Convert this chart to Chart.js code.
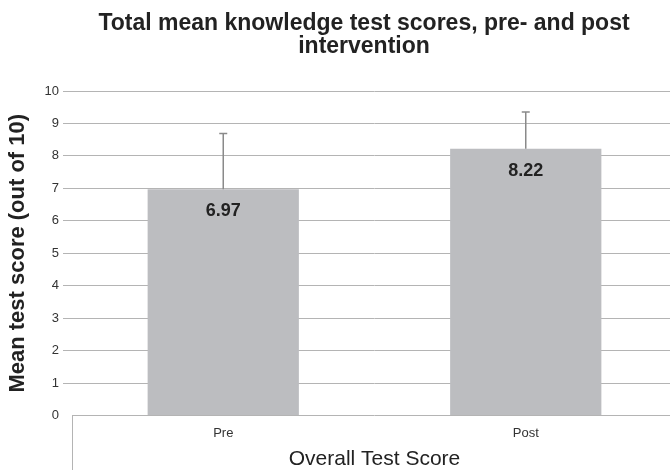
<!DOCTYPE html>
<html>
<head>
<meta charset="utf-8">
<script src="https://cdn.jsdelivr.net/npm/chart.js@4/dist/chart.umd.min.js"></script>
<style>
  html, body { margin: 0; padding: 0; background: #fff; overflow: hidden; }
  #wrap { width: 728px; height: 470px; position: relative; }
</style>
</head>
<body>
<div id="wrap"><canvas id="c"></canvas></div>
<script>
const categories = ["Pre", "Post"];
const meanScores = [6.97, 8.22];
const sdScores = [1.72, 1.13];
const yTicks = [0, 1, 2, 3, 4, 5, 6, 7, 8, 9, 10];
const titleLines = ["Total mean knowledge test scores, pre- and post", "intervention"];
const yTitle = "Mean test score (out of 10)";
const xTitle = "Overall Test Score";

const FONT = "'Liberation Sans', Arial, Helvetica, sans-serif";
const GRID = "#b4b4b4";

const extras = {
  id: "extras",
  afterDatasetsDraw(chart) {
    const ctx = chart.ctx;
    const meta = chart.getDatasetMeta(0);
    const ys = chart.scales.y;
    ctx.save();
    meta.data.forEach((bar, i) => {
      const v = meanScores[i];
      const top = ys.getPixelForValue(v + sdScores[i]);
      const yv = ys.getPixelForValue(v);
      ctx.strokeStyle = "#8a8a8a";
      ctx.lineWidth = 1.5;
      ctx.beginPath();
      ctx.moveTo(bar.x, yv);
      ctx.lineTo(bar.x, top);
      ctx.moveTo(bar.x - 4, top);
      ctx.lineTo(bar.x + 4, top);
      ctx.stroke();
      ctx.fillStyle = "#222";
      ctx.font = "bold 18px " + FONT;
      ctx.textAlign = "center";
      ctx.textBaseline = "middle";
      ctx.fillText(v.toFixed(2), bar.x, yv + 22);
    });
    const a = chart.chartArea;
    ctx.strokeStyle = GRID;
    ctx.lineWidth = 1;
    ctx.beginPath();
    ctx.moveTo(Math.round(a.left) + 0.5, a.bottom);
    ctx.lineTo(Math.round(a.left) + 0.5, chart.height);
    ctx.stroke();
    ctx.restore();
  }
};

new Chart(document.getElementById("c"), {
  type: "bar",
  data: {
    labels: categories,
    datasets: [{
      data: meanScores,
      backgroundColor: "#bcbdc0",
      borderWidth: 0,
      barPercentage: 0.5,
      categoryPercentage: 1.0
    }]
  },
  options: {
    responsive: true,
    maintainAspectRatio: false,
    animation: false,
    layout: { padding: 0 },
    plugins: {
      legend: { display: false },
      tooltip: { enabled: false },
      title: {
        display: true,
        text: titleLines,
        color: "#222",
        font: { family: FONT, size: 23, weight: "bold", lineHeight: 1.0 },
        padding: { top: 12, bottom: 33 }
      }
    },
    scales: {
      x: {
        afterFit(scale) { scale.height = 54.5; },
        grid: { display: false, drawTicks: false },
        border: { display: false },
        ticks: { color: "#333", font: { family: FONT, size: 13 }, padding: 10 },
        title: {
          display: true,
          text: xTitle,
          color: "#222",
          font: { family: FONT, size: 21, lineHeight: 1.0 },
          padding: { top: 0, bottom: 0 }
        }
      },
      y: {
        min: 0,
        max: 10,
        afterFit(scale) { scale.width = 72; },
        afterBuildTicks(scale) { scale.ticks = yTicks.map(v => ({ value: v })); },
        grid: {
          color: GRID,
          lineWidth: 1,
          tickLength: 9,
          tickColor: (c) => (c.tick && c.tick.value === 0 ? "rgba(0,0,0,0)" : GRID)
        },
        border: { display: false },
        ticks: { color: "#333", font: { family: FONT, size: 13 }, padding: 4 },
        title: {
          display: true,
          text: yTitle,
          color: "#222",
          font: { family: FONT, size: 22, weight: "bold" },
          padding: { top: 5, bottom: 0 }
        }
      },
      yRight: {
        type: "linear",
        position: "right",
        display: true,
        afterFit(scale) { scale.width = 51; },
        grid: { display: false, drawTicks: false },
        border: { display: false },
        ticks: { display: false }
      }
    }
  },
  plugins: [extras]
});
</script>
</body>
</html>
